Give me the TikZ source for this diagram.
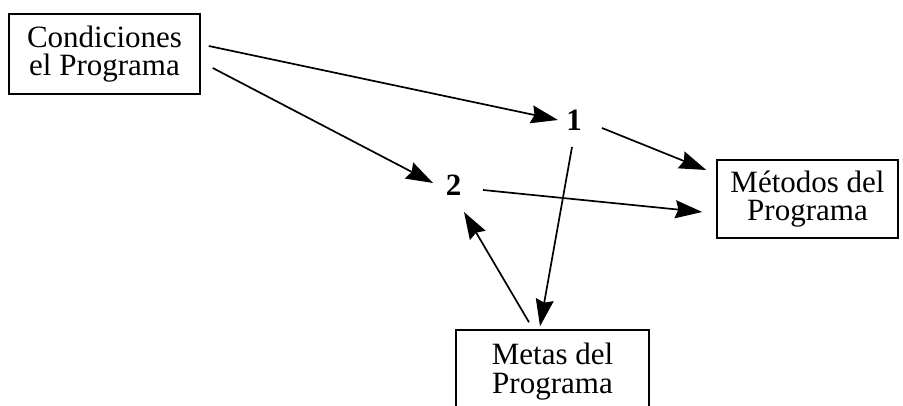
\documentclass[tikz,border=0pt]{standalone}
\usepackage{fontspec}
\setmainfont{Liberation Serif}
\usetikzlibrary{arrows.meta,calc}
\begin{document}
\begin{tikzpicture}[x=1pt,y=1pt,
  boxnode/.style={draw,line width=1.5pt,align=center,inner sep=0pt,
    font=\fontsize{31}{28.5}\selectfont},
  numnode/.style={font=\fontsize{31}{31}\selectfont\bfseries,inner sep=0pt},
  arr/.style={line width=1.7pt,-{Stealth[length=27pt,width=18pt,inset=3pt]}}]
\useasboundingbox (0,0) rectangle (903,406);
\node[boxnode,minimum width=191pt,minimum height=80pt] (c) at (104.5,352) {Condiciones\\el Programa};
\node[boxnode,minimum width=181pt,minimum height=78pt] (m) at (807.5,207) {Métodos del\\Programa};
\node[boxnode,minimum width=193pt,minimum height=83pt] (g) at (552.5,34.5) {Metas del\\Programa};
\node[numnode] (n1) at (574,286) {1};
\node[numnode] (n2) at (453.5,221) {2};
\draw[arr] ($(c.east)+(8,8)$) -- ($(n1.center)+(-16,0)$);
\draw[arr] ($(c.east)+(12,-14)$) -- ($(n2.center)+(-20.5,2)$);
\draw[arr] ($(n1.center)+(28,-8)$) -- ($(m.west)+(-10,29)$);
\draw[arr] ($(n2.center)+(29.5,-5)$) -- ($(m.west)+(-14,-13)$);
\draw[arr] ($(n1.center)+(-2,-27)$) -- ($(g.north)+(-12.5,3)$);
\draw[arr] ($(g.north)+(-23.5,7)$) -- ($(n2.center)+(10.5,-27)$);
\end{tikzpicture}
\end{document}
